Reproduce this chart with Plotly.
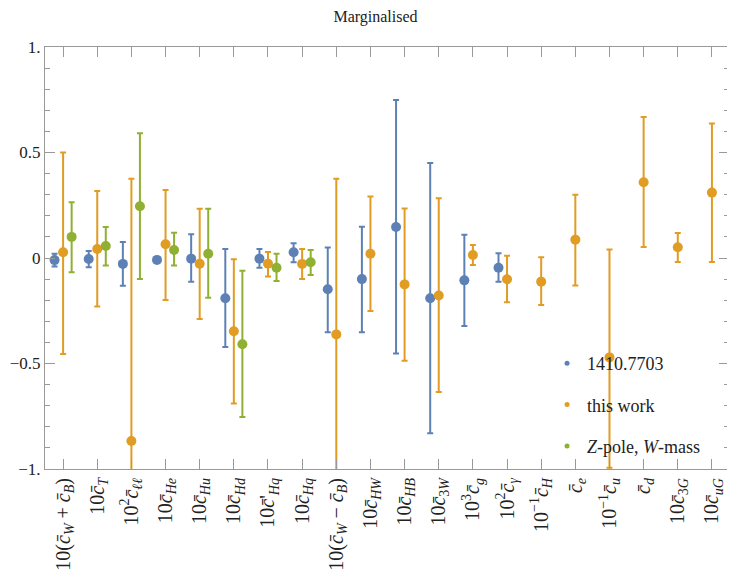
import plotly.graph_objects as go

# coefficient labels along x
labels = [
    "10(<i>c̄</i><sub><i>W</i></sub> + <i>c̄</i><sub><i>B</i></sub>)",
    "10<i>c̄</i><sub><i>T</i></sub>",
    "10<sup>2</sup><i>c̄</i><sub><i>ℓℓ</i></sub>",
    "10<i>c̄</i><sub><i>He</i></sub>",
    "10<i>c̄</i><sub><i>Hu</i></sub>",
    "10<i>c̄</i><sub><i>Hd</i></sub>",
    "10<i>c̄</i>'<sub><i>Hq</i></sub>",
    "10<i>c̄</i><sub><i>Hq</i></sub>",
    "10(<i>c̄</i><sub><i>W</i></sub> − <i>c̄</i><sub><i>B</i></sub>)",
    "10<i>c̄</i><sub><i>HW</i></sub>",
    "10<i>c̄</i><sub><i>HB</i></sub>",
    "10<i>c̄</i><sub>3<i>W</i></sub>",
    "10<sup>3</sup><i>c̄</i><sub><i>g</i></sub>",
    "10<sup>2</sup><i>c̄</i><sub><i>γ</i></sub>",
    "10<sup>−1</sup><i>c̄</i><sub><i>H</i></sub>",
    "<i>c̄</i><sub><i>e</i></sub>",
    "10<sup>−1</sup><i>c̄</i><sub><i>u</i></sub>",
    "<i>c̄</i><sub><i>d</i></sub>",
    "10<i>c̄</i><sub>3<i>G</i></sub>",
    "10<i>c̄</i><sub><i>uG</i></sub>",
]

# 1410.7703 (first 14 coefficients)
blue_val = [-0.01, -0.005, -0.028, -0.009, -0.003, -0.191, -0.003, 0.027, -0.148, -0.10, 0.147, -0.191, -0.106, -0.046]
blue_lo = [-0.04, -0.044, -0.131, -0.014, -0.112, -0.422, -0.046, -0.02, -0.352, -0.352, -0.453, -0.831, -0.322, -0.112]
blue_hi = [0.02, 0.033, 0.076, -0.004, 0.112, 0.043, 0.043, 0.07, 0.05, 0.148, 0.749, 0.45, 0.11, 0.022]

# this work (all 20)
orange_val = [0.027, 0.043, -0.867, 0.065, -0.027, -0.347, -0.027, -0.028, -0.362, 0.02,
              -0.125, -0.178, 0.014, -0.101, -0.112, 0.087, -0.471, 0.359, 0.051, 0.31]
orange_lo = [-0.455, -0.23, -1.3, -0.199, -0.289, -0.69, -0.088, -0.10, -1.3, -0.251,
             -0.487, -0.635, -0.033, -0.21, -0.223, -0.13, -0.994, 0.052, -0.019, -0.019]
orange_hi = [0.50, 0.317, 0.376, 0.322, 0.234, -0.006, 0.028, 0.043, 0.376, 0.292,
             0.235, 0.283, 0.062, 0.011, 0.003, 0.30, 0.04, 0.668, 0.118, 0.638]

# Z-pole, W-mass (first 8)
green_val = [0.10, 0.057, 0.245, 0.038, 0.02, -0.409, -0.046, -0.02]
green_lo = [-0.068, -0.036, -0.10, -0.036, -0.188, -0.754, -0.109, -0.08]
green_hi = [0.264, 0.147, 0.591, 0.12, 0.234, -0.06, 0.02, 0.038]

series = [
    ("1410.7703", "#5E81B5", -0.25, blue_val, blue_lo, blue_hi),
    ("this work", "#E19C24", 0.0, orange_val, orange_lo, orange_hi),
    ("<i>Z</i>-pole, <i>W</i>-mass", "#8FB032", 0.25, green_val, green_lo, green_hi),
]

font = "Liberation Serif"
fig = go.Figure()

for name, col, off, val, lo, hi in series:
    xs = [i + 1 + off for i in range(len(val))]
    fig.add_trace(go.Scatter(
        x=xs, y=val, mode="markers", showlegend=False,
        marker=dict(color=col, size=10),
        error_y=dict(type="data", symmetric=False,
                     array=[h - v for h, v in zip(hi, val)],
                     arrayminus=[v - l for v, l in zip(val, lo)],
                     color=col, thickness=2, width=3),
    ))
    # small legend dot
    fig.add_trace(go.Scatter(
        x=[None], y=[None], mode="markers", name=name, legendgroup=name,
        marker=dict(color=col, size=5),
    ))

fig.update_layout(
    width=735, height=583,
    margin=dict(l=37, r=14, t=39, b=122, autoexpand=False),
    plot_bgcolor="white", paper_bgcolor="white",
    font=dict(family=font, size=18, color="#222"),
    title=dict(text="Marginalised", x=0.5, xanchor="center", y=0.985, yanchor="middle",
               font=dict(size=16, family=font)),
    legend=dict(x=0.734, y=0.294, xanchor="left", yanchor="top",
                bgcolor="rgba(0,0,0,0)", font=dict(size=18, family=font),
                tracegroupgap=15, itemwidth=30),
)

fig.update_xaxes(
    range=[0.47, 20.5], tickmode="array", automargin=False,
    tickvals=list(range(1, 21)), ticktext=labels, tickangle=-90,
    ticks="inside", ticklen=10, tickcolor="#999", tickwidth=1,
    showline=True, linecolor="#999", linewidth=1, mirror="ticks",
    showgrid=False, zeroline=False, tickfont=dict(size=20, family=font),
)
fig.update_yaxes(
    range=[-1, 1], tickmode="array", automargin=False,
    tickvals=[-1, -0.5, 0, 0.5, 1], ticktext=["−1.", "−0.5", "0", "0.5", "1."],
    ticks="inside", ticklen=10, tickcolor="#999", tickwidth=1,
    minor=dict(dtick=0.1, ticks="inside", ticklen=5, tickcolor="#999", showgrid=False),
    showline=True, linecolor="#999", linewidth=1, mirror="ticks",
    showgrid=False, zeroline=False, tickfont=dict(size=17, family=font),
)

fig.write_html("out.html")
